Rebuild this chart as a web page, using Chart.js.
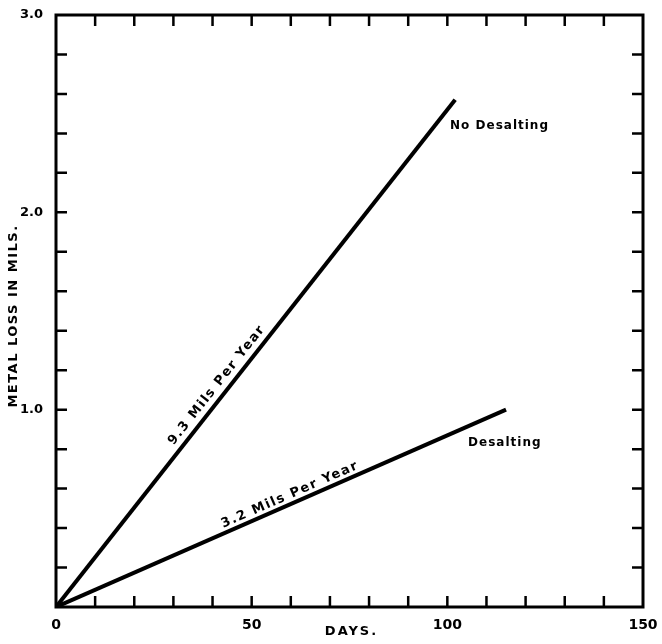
<!DOCTYPE html>
<html>
<head>
<meta charset="utf-8">
<script src="https://cdn.jsdelivr.net/npm/chart.js@4/dist/chart.umd.min.js"></script>
<style>
  html, body { margin: 0; padding: 0; background: #fff; }
  #wrap { width: 662px; height: 644px; }
</style>
</head>
<body>
<div id="wrap"><canvas id="chart" width="662" height="644"></canvas></div>
<script>
// values
const noDesaltDays = [0, 102];
const noDesaltLoss = [0, 2.57];
const desaltDays = [0, 115];
const desaltLoss = [0, 1.0];

const xLabels = [0, 50, 100, 150];
const yLabels = [1, 2, 3];

const xTitle = 'DAYS.';
const yTitle = 'METAL LOSS IN MILS.';

// text along / beside the lines (data coords)
const notes = [
  { text: '9.3 Mils Per Year', x: 41.1, y: 1.125, along: 0 },
  { text: '3.2 Mils Per Year', x: 59.8, y: 0.568, along: 1 },
  { text: 'No Desalting', x: 100.7, y: 2.44, along: -1 },
  { text: 'Desalting', x: 105.3, y: 0.83, along: -1 }
];

const FONT = '"DejaVu Sans", sans-serif';

const pts = (xs, ys) => xs.map((x, i) => ({ x: x, y: ys[i] }));

const framePlugin = {
  id: 'frame',
  afterDraw(chart) {
    const ctx = chart.ctx;
    const a = chart.chartArea;
    const xs = chart.scales.x, ys = chart.scales.y;
    ctx.save();
    ctx.strokeStyle = '#000';
    ctx.lineWidth = 3;
    ctx.strokeRect(a.left, a.top, a.right - a.left, a.bottom - a.top);

    // inward ticks
    ctx.lineWidth = 2.5;
    const len = 11;
    ctx.beginPath();
    for (let d = 10; d < 150; d += 10) {
      const px = xs.getPixelForValue(d);
      ctx.moveTo(px, a.bottom); ctx.lineTo(px, a.bottom - len);
      ctx.moveTo(px, a.top); ctx.lineTo(px, a.top + len);
    }
    for (let i = 1; i < 15; i++) {
      const py = ys.getPixelForValue(i * 0.2);
      ctx.moveTo(a.left, py); ctx.lineTo(a.left + len, py);
      ctx.moveTo(a.right, py); ctx.lineTo(a.right - len, py);
    }
    ctx.stroke();

    // notes
    ctx.fillStyle = '#000';
    ctx.textBaseline = 'middle';
    notes.forEach(n => {
      const px = xs.getPixelForValue(n.x);
      const py = ys.getPixelForValue(n.y);
      ctx.save();
      ctx.translate(px, py);
      if (n.along >= 0) {
        const ds = chart.data.datasets[n.along].data;
        const p0 = { x: xs.getPixelForValue(ds[0].x), y: ys.getPixelForValue(ds[0].y) };
        const p1 = { x: xs.getPixelForValue(ds[1].x), y: ys.getPixelForValue(ds[1].y) };
        ctx.rotate(Math.atan2(p1.y - p0.y, p1.x - p0.x));
        ctx.font = 'bold 13px ' + FONT;
        ctx.letterSpacing = '1.5px';
        ctx.textAlign = 'center';
      } else {
        ctx.font = 'bold 12px ' + FONT;
        ctx.letterSpacing = '1px';
        ctx.textAlign = 'left';
      }
      ctx.fillText(n.text, 0, 0);
      ctx.restore();
    });

    // axis titles
    ctx.font = 'bold 13px ' + FONT;
    ctx.textAlign = 'center';
    ctx.letterSpacing = '2px';
    ctx.fillText(xTitle, (a.left + a.right) / 2 + 2, 632);
    ctx.save();
    ctx.translate(14, (a.top + a.bottom) / 2 + 5);
    ctx.rotate(-Math.PI / 2);
    ctx.letterSpacing = '1.5px';
    ctx.fillText(yTitle, 0, 0);
    ctx.restore();
    ctx.restore();
  }
};

new Chart(document.getElementById('chart'), {
  type: 'scatter',
  data: {
    datasets: [
      {
        label: 'No Desalting',
        data: pts(noDesaltDays, noDesaltLoss),
        showLine: true,
        borderColor: '#000',
        borderWidth: 4,
        pointRadius: 0
      },
      {
        label: 'Desalting',
        data: pts(desaltDays, desaltLoss),
        showLine: true,
        borderColor: '#000',
        borderWidth: 4,
        pointRadius: 0
      }
    ]
  },
  options: {
    responsive: false,
    animation: false,
    layout: { padding: { top: 15, right: 19, left: 0, bottom: 0 } },
    plugins: {
      legend: { display: false },
      tooltip: { enabled: false }
    },
    scales: {
      x: {
        type: 'linear',
        min: 0,
        max: 150,
        grid: { display: false },
        border: { display: false },
        afterFit: s => { s.height = 37; },
        ticks: {
          stepSize: 10,
          autoSkip: false,
          maxRotation: 0,
          padding: 2,
          color: '#000',
          font: { family: FONT, size: 14, weight: 'bold' },
          callback: v => xLabels.includes(v) ? String(v) : ''
        }
      },
      y: {
        type: 'linear',
        min: 0,
        max: 3,
        grid: { display: false },
        border: { display: false },
        afterFit: s => { s.width = 56; },
        ticks: {
          stepSize: 0.2,
          autoSkip: false,
          padding: 5,
          color: '#000',
          font: { family: FONT, size: 13, weight: 'bold' },
          callback: v => yLabels.some(l => Math.abs(l - v) < 1e-6) ? v.toFixed(1) : ''
        }
      }
    }
  },
  plugins: [framePlugin]
});
</script>
</body>
</html>
